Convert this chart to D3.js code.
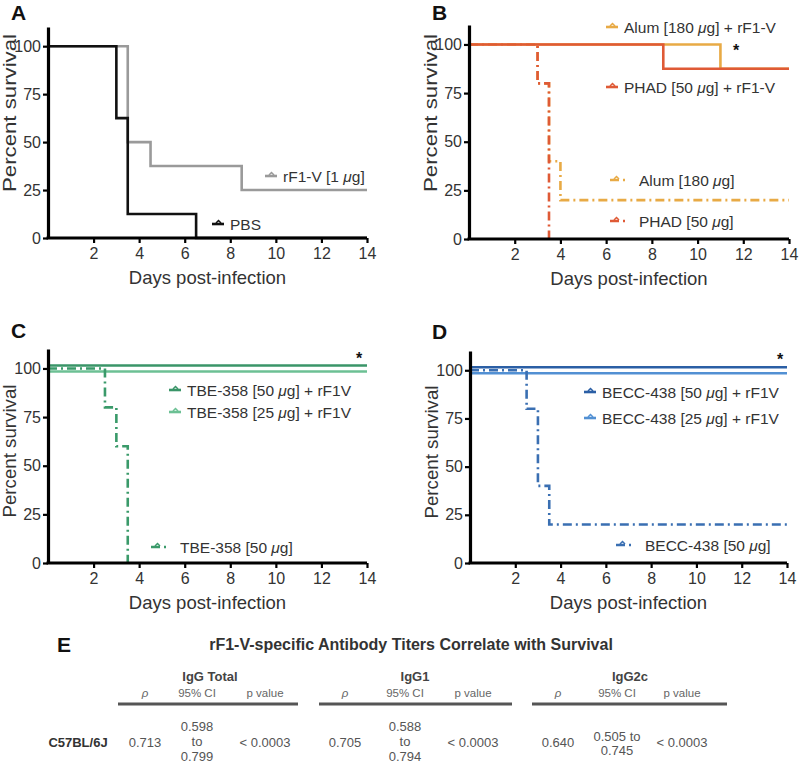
<!DOCTYPE html>
<html><head><meta charset="utf-8">
<script src="https://cdn.jsdelivr.net/npm/d3@7"></script>
<style>body{margin:0;background:#fff}svg{display:block}text{font-family:"Liberation Sans",Arial,sans-serif}</style>
</head><body>
<script>
// ---------- DATA ----------
const xTicks = [2, 4, 6, 8, 10, 12, 14];
const yTicks = [0, 25, 50, 75, 100];
// Panel A
const pbsDays = [0, 3, 3.5, 6.5, 14];       const pbsSurv = [100, 62.5, 12.5, 0, 0];
const rf1vDays = [0, 3.5, 4.5, 8.5, 14];    const rf1vSurv = [100, 50, 37.5, 25, 25];
// Panel B
const alumRf1vDays = [0, 11, 14];           const alumRf1vSurv = [100, 87.5, 87.5];
const phadRf1vDays = [0, 8.5, 14];          const phadRf1vSurv = [100, 87.5, 87.5];
const alumDays = [0, 3, 3.5, 4, 14];        const alumSurv = [100, 80, 40, 20, 20];
const phadDays = [0, 3, 3.5];               const phadSurv = [100, 80, 0];
// Panel C
const tbe50Rf1vDays = [0, 14];              const tbe50Rf1vSurv = [100, 100];
const tbe25Rf1vDays = [0, 14];              const tbe25Rf1vSurv = [100, 100];
const tbe50Days = [0, 2.5, 3, 3.5];         const tbe50Surv = [100, 80, 60, 0];
// Panel D
const becc50Rf1vDays = [0, 14];             const becc50Rf1vSurv = [100, 100];
const becc25Rf1vDays = [0, 14];             const becc25Rf1vSurv = [100, 100];
const becc50Days = [0, 2.5, 3, 3.5, 14];    const becc50Surv = [100, 80, 40, 20, 20];
// Panel E table
const tableTitle = "rF1-V-specific Antibody Titers Correlate with Survival";
const tableGroups = ["IgG Total", "IgG1", "IgG2c"];
const tableColumns = ["ρ", "95% CI", "p value"];
const tableStrain = "C57BL/6J";
const tableRho = ["0.713", "0.705", "0.640"];
const tableCiLow = ["0.598", "0.588", "0.505"];
const tableCiHigh = ["0.799", "0.794", "0.745"];
const tablePval = ["< 0.0003", "< 0.0003", "< 0.0003"];

// ---------- DRAW ----------
const svg = d3.select("body").append("svg").attr("width", 800).attr("height", 764);
const zip = (a, b) => a.map((v, i) => [v, b[i]]);
const DD = "9,4,2,4";

function addLabel(sel, label) {
  const parts = label.split("μ");
  parts.forEach((p, i) => {
    if (i > 0) sel.append("tspan").attr("font-style", "italic").text("μ");
    sel.append("tspan").text(p);
  });
}

function panel(cfg) {
  const g = svg.append("g");
  const x = d3.scaleLinear().domain([0, 14]).range([cfg.x0, cfg.x14]);
  const y = d3.scaleLinear().domain([0, 110]).range([cfg.y0, cfg.ytop]);
  const line = d3.line().x(d => x(d[0])).y(d => y(d[1])).curve(d3.curveStepAfter);

  cfg.series.forEach(s => {
    g.append("path").attr("d", line(zip(s.days, s.surv)))
      .attr("fill", "none").attr("stroke", s.color).attr("stroke-width", 2.6)
      .attr("stroke-dasharray", s.dash ? DD : null)
      .attr("transform", `translate(0,${s.off || 0})`);
  });

  const xa = g.append("g").attr("transform", `translate(0,${cfg.y0})`)
    .call(d3.axisBottom(x).tickValues(xTicks).tickSize(5).tickSizeOuter(0).tickPadding(5));
  const ya = g.append("g").attr("transform", `translate(${cfg.x0},0)`)
    .call(d3.axisLeft(y).tickValues(yTicks).tickSize(5).tickSizeOuter(0).tickPadding(2));
  [xa, ya].forEach(a => {
    a.select(".domain").attr("stroke", "#000").attr("stroke-width", 3.2);
    a.selectAll(".tick line").attr("stroke", "#000").attr("stroke-width", 2.2);
    a.selectAll(".tick text").attr("font-size", 16).attr("fill", "#333")
      .attr("font-family", '"Liberation Sans",Arial,sans-serif');
  });
  xa.select(".domain").attr("d", `M${cfg.x0 - 1.5},0H${cfg.x14}`);

  g.append("text").attr("x", (cfg.x0 + cfg.x14) / 2).attr("y", cfg.y0 + 46)
    .attr("text-anchor", "middle").attr("font-size", 18.5).attr("fill", "#333").text("Days post-infection");
  g.append("text").attr("transform", `translate(${cfg.x0 - 32},${cfg.ycTitle}) rotate(-90)`)
    .attr("text-anchor", "middle").attr("font-size", 18.5).attr("fill", "#333")
    .attr("textLength", cfg.titleLen).attr("lengthAdjust", "spacingAndGlyphs").text("Percent survival");

  g.append("text").attr("x", cfg.lx).attr("y", cfg.ly).attr("font-size", 21)
    .attr("font-weight", "bold").attr("fill", "#111").text(cfg.letter);

  cfg.legend.forEach(l => {
    const len = l.dash ? 21 : 12;
    const gap = l.dash ? 8 : 6;
    g.append("line").attr("x1", l.x - gap - len).attr("x2", l.x - gap)
      .attr("y1", l.y).attr("y2", l.y).attr("stroke", l.color).attr("stroke-width", 2.6)
      .attr("stroke-dasharray", l.dash ? "9,4,2,6" : null);
    g.append("path").attr("d", `M${l.x - gap - (l.dash ? 17 : 8)},${l.y - 1}l2.5,-2.5l2.5,2.5`)
      .attr("fill", "none").attr("stroke", l.color).attr("stroke-width", 1.5);
    const t = g.append("text").attr("x", l.x).attr("y", l.y + 5.5).attr("font-size", 15.5).attr("fill", "#333");
    addLabel(t, l.label);
  });

  if (cfg.star) g.append("text").attr("x", cfg.star[0]).attr("y", cfg.star[1] + 7)
    .attr("text-anchor", "middle").attr("font-size", 16).attr("font-weight", "bold").attr("fill", "#111").text("*");
}

const gray = "#9a9a9a", black = "#111";
const gold = "#e8aa45", red = "#df5a36";
const green1 = "#3a9568", green2 = "#6cc094", greenDD = "#3a9a6a";
const blue1 = "#2b5fa5", blue2 = "#5290d3", blueDD = "#3a6fb2";

panel({
  x0: 48, x14: 367, y0: 238, ytop: 27, ycTitle: 113, titleLen: 158, letter: "A", lx: 11, ly: 20,
  series: [
    { days: rf1vDays, surv: rf1vSurv, color: gray },
    { days: pbsDays, surv: pbsSurv, color: black }
  ],
  legend: [
    { label: "rF1-V [1 μg]", x: 283, y: 176, color: gray },
    { label: "PBS", x: 230, y: 224, color: black }
  ]
});

panel({
  x0: 469, x14: 789, y0: 239, ytop: 25, ycTitle: 113, titleLen: 158, letter: "B", lx: 432, ly: 20,
  series: [
    { days: alumDays, surv: alumSurv, color: gold, dash: true },
    { days: phadDays, surv: phadSurv, color: red, dash: true },
    { days: alumRf1vDays, surv: alumRf1vSurv, color: gold },
    { days: phadRf1vDays, surv: phadRf1vSurv, color: red }
  ],
  legend: [
    { label: "Alum [180 μg] + rF1-V", x: 624, y: 27, color: gold },
    { label: "PHAD [50 μg] + rF1-V", x: 624, y: 87, color: red },
    { label: "Alum [180 μg]", x: 639, y: 180, color: gold, dash: true },
    { label: "PHAD [50 μg]", x: 639, y: 221, color: red, dash: true }
  ],
  star: [736, 49]
});

panel({
  x0: 48, x14: 367, y0: 563, ytop: 349, ycTitle: 451, titleLen: 133, letter: "C", lx: 11, ly: 338,
  series: [
    { days: tbe25Rf1vDays, surv: tbe25Rf1vSurv, color: green2, off: 3 },
    { days: tbe50Rf1vDays, surv: tbe50Rf1vSurv, color: green1, off: -3 },
    { days: tbe50Days, surv: tbe50Surv, color: greenDD, dash: true }
  ],
  legend: [
    { label: "TBE-358 [50 μg] + rF1V", x: 187, y: 390, color: green1 },
    { label: "TBE-358 [25 μg] + rF1V", x: 187, y: 412, color: green2 },
    { label: "TBE-358 [50 μg]", x: 180, y: 547, color: greenDD, dash: true }
  ],
  star: [359, 357]
});

panel({
  x0: 470, x14: 787, y0: 563, ytop: 351, ycTitle: 452, titleLen: 133, letter: "D", lx: 432, ly: 339,
  series: [
    { days: becc25Rf1vDays, surv: becc25Rf1vSurv, color: blue2, off: 3 },
    { days: becc50Rf1vDays, surv: becc50Rf1vSurv, color: blue1, off: -3 },
    { days: becc50Days, surv: becc50Surv, color: blueDD, dash: true }
  ],
  legend: [
    { label: "BECC-438 [50 μg] + rF1V", x: 602, y: 392, color: blue1 },
    { label: "BECC-438 [25 μg] + rF1V", x: 602, y: 418, color: blue2 },
    { label: "BECC-438 [50 μg]", x: 645, y: 545, color: blueDD, dash: true }
  ],
  star: [780, 358]
});

// ---------- Panel E table ----------
const E = svg.append("g");
E.append("text").attr("x", 57).attr("y", 652).attr("font-size", 21).attr("font-weight", "bold").attr("fill", "#111").text("E");
E.append("text").attr("x", 411).attr("y", 650).attr("text-anchor", "middle").attr("font-size", 16)
  .attr("font-weight", "bold").attr("fill", "#333").text(tableTitle);

const groupLayout = [
  { head: 210, cols: [145, 197, 265], line: [118, 298] },
  { head: 415, cols: [345, 405, 473], line: [319, 512] },
  { head: 630, cols: [558, 617, 682], line: [532, 727] }
];
tableGroups.forEach((name, i) => {
  const L = groupLayout[i];
  E.append("text").attr("x", L.head).attr("y", 681).attr("text-anchor", "middle")
    .attr("font-size", 13).attr("font-weight", "bold").attr("fill", "#444").text(name);
  tableColumns.forEach((c, j) => {
    E.append("text").attr("x", L.cols[j]).attr("y", 697).attr("text-anchor", "middle")
      .attr("font-size", 11.5).attr("fill", "#666").attr("font-style", j === 0 ? "italic" : null).text(c);
  });
  E.append("line").attr("x1", L.line[0]).attr("x2", L.line[1]).attr("y1", 704).attr("y2", 704)
    .attr("stroke", "#555").attr("stroke-width", 3);
  E.append("text").attr("x", L.cols[0]).attr("y", 747).attr("text-anchor", "middle")
    .attr("font-size", 13).attr("fill", "#555").text(tableRho[i]);
  if (i < 2) {
    [[tableCiLow[i], 731], ["to", 746], [tableCiHigh[i], 761]].forEach(([t, yy]) => {
      E.append("text").attr("x", L.cols[1]).attr("y", yy).attr("text-anchor", "middle")
        .attr("font-size", 13).attr("fill", "#555").text(t);
    });
  } else {
    [[tableCiLow[i] + " to", 741], [tableCiHigh[i], 755]].forEach(([t, yy]) => {
      E.append("text").attr("x", L.cols[1]).attr("y", yy).attr("text-anchor", "middle")
        .attr("font-size", 13).attr("fill", "#555").text(t);
    });
  }
  E.append("text").attr("x", L.cols[2]).attr("y", 747).attr("text-anchor", "middle")
    .attr("font-size", 13).attr("fill", "#555").text(tablePval[i]);
});
E.append("text").attr("x", 78).attr("y", 747).attr("text-anchor", "middle")
  .attr("font-size", 13).attr("font-weight", "bold").attr("fill", "#333").text(tableStrain);
</script>
</body></html>
